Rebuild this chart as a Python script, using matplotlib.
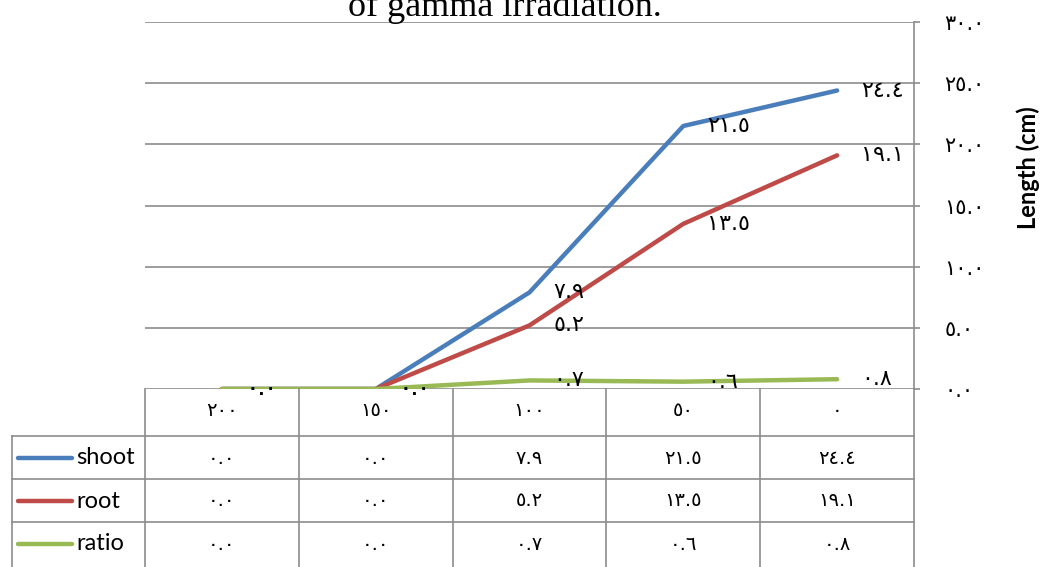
import matplotlib
matplotlib.use("Agg")
import matplotlib.pyplot as plt

# ---- data -------------------------------------------------------------
doses = [200, 150, 100, 50, 0]
shoot = [0.0, 0.0, 7.9, 21.5, 24.4]
root = [0.0, 0.0, 5.2, 13.5, 19.1]
ratio = [0.0, 0.0, 0.7, 0.6, 0.8]
series_names = ["shoot", "root", "ratio"]
series_colors = ["#4a7ebb", "#be4b48", "#98b954"]
yticks = [0, 5, 10, 15, 20, 25, 30]

AR = str.maketrans("0123456789", "٠١٢٣٤٥٦٧٨٩")


def ar(s):
    return s.translate(AR)


W, H = 1040, 567
fig = plt.figure(figsize=(W / 100, H / 100), dpi=100)

# plot area in pixel bounds (left, right, top, bottom)
PL, PR, PT, PB = 145, 914, 22, 389
ax = fig.add_axes([PL / W, 1 - PB / H, (PR - PL) / W, (PB - PT) / H])
GRID = "#8c8c8c"
LW_GRID = 1.2
NUMFONT = ["DejaVu Sans"]

x = list(range(len(doses)))
all_series = [shoot, root, ratio]
for vals, name, col in zip(all_series, series_names, series_colors):
    ax.plot(x, vals, color=col, linewidth=3.2, solid_capstyle="round",
            solid_joinstyle="round", zorder=3)
    for xi, v in zip(x, vals):
        ax.annotate(ar(f"{v:.1f}"), xy=(xi, v), xytext=(24, 0),
                    textcoords="offset pixels", ha="left", va="center",
                    fontsize=16, family=NUMFONT, zorder=4)

ax.set_xlim(-0.5, len(doses) - 0.5)
ax.set_ylim(0, 30)
ax.set_xticks([])
ax.set_yticks(yticks)
ax.set_yticklabels([ar(f"{t:.1f}") for t in yticks], fontsize=15,
                   family=NUMFONT, ha="left")
ax.yaxis.tick_right()
ax.tick_params(axis="y", length=4, width=LW_GRID, color=GRID, pad=18)
for sp in ["left", "top", "bottom"]:
    ax.spines[sp].set_visible(False)
ax.spines["right"].set_color(GRID)
ax.spines["right"].set_linewidth(LW_GRID)
ax.grid(axis="y", color=GRID, linewidth=LW_GRID)
ax.set_axisbelow(True)
ax.patch.set_alpha(0)

fig.text(1028 / W, 1 - 168 / H, "Length (cm)", rotation=90, ha="center",
         va="center", fontsize=17, fontweight="bold", family="Lato")

fig.text(505 / W, 1 - 16 / H, "of gamma irradiation.", ha="center",
         va="baseline", fontsize=26, family="Liberation Serif")

# ---- data table -------------------------------------------------------
TL = 12
unit = (PR - PL) / len(doses)
xl = -0.5 - (PL - TL) / unit
tax = fig.add_axes([TL / W, 0, (PR - TL) / W, (H - PB) / H])
tax.set_xlim(xl, len(doses) - 0.5)
tax.set_ylim(H - PB, 0)
tax.axis("off")

row_edges = [0, 47, 90, 133]
for r in row_edges[1:]:
    tax.plot([xl, len(doses) - 0.5], [r, r], color=GRID, lw=LW_GRID, clip_on=False)
tax.plot([xl, xl], [47, H - PB], color=GRID, lw=LW_GRID, clip_on=False)
for i in range(len(doses) + 1):
    tax.plot([i - 0.5, i - 0.5], [0, H - PB], color=GRID, lw=LW_GRID, clip_on=False)

for i, d in enumerate(doses):
    tax.text(i, 22, ar(str(d)), ha="center", va="center", fontsize=14,
             family=NUMFONT)

row_centers = [69, 112, 155]
key_x0 = xl + (18 - TL) / unit
key_x1 = xl + (72 - TL) / unit
txt_x = xl + (76 - TL) / unit
for rc, vals, name, col in zip(row_centers, all_series, series_names, series_colors):
    tax.plot([key_x0, key_x1], [rc, rc], color=col, lw=3.2, solid_capstyle="round")
    tax.text(txt_x, rc, name, ha="left", va="center", fontsize=17, family="Lato")
    for i, v in enumerate(vals):
        tax.text(i, rc, ar(f"{v:.1f}"), ha="center", va="center", fontsize=14,
                 family=NUMFONT)

fig.savefig("out.png", dpi=100)
